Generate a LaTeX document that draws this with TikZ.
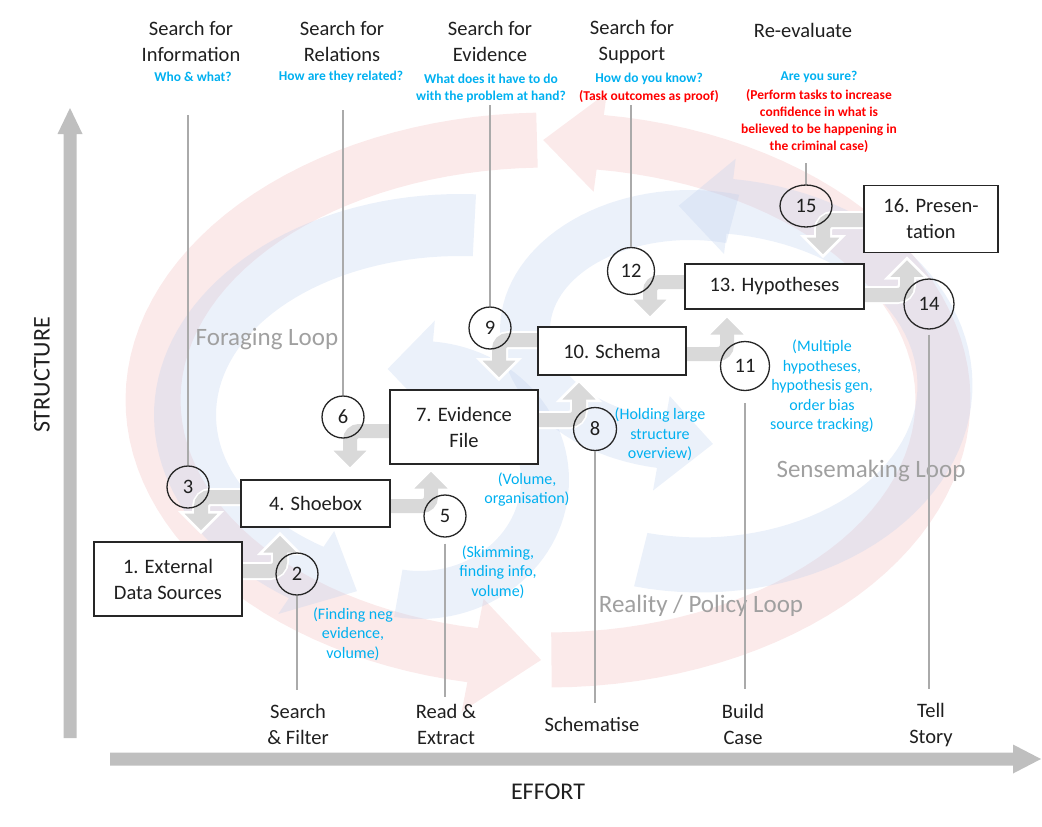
\documentclass[tikz,border=0pt]{standalone}
\usepackage{fontspec}
\setmainfont{Carlito}
\usetikzlibrary{shapes.geometric}
\pgfdeclarelayer{loops}
\pgfdeclarelayer{arrowsl}
\pgfsetlayers{loops,arrowsl,main}

\definecolor{askblue}{RGB}{0,176,240}
\definecolor{askred}{RGB}{255,0,0}
\definecolor{loopgray}{RGB}{160,160,160}
\definecolor{stemgray}{RGB}{170,170,170}
\definecolor{elbowgray}{RGB}{217,217,217}
\definecolor{axisgray}{RGB}{191,191,191}
\definecolor{boxline}{RGB}{38,38,38}
\definecolor{loopred}{RGB}{251,234,234}
\definecolor{loopblue}{RGB}{190,208,238}

% curved band with an arrow head: cx cy rx ry start end bandwidth headwidth tipangle
\newcommand\loopband[9]{%
  \fill plot[domain=#5:#6,samples=60,variable=\t]
      ({#1+(#3+#7/2)*cos(\t)},{#2-(#4+#7/2)*sin(\t)})
    -- ({#1+(#3+#8/2)*cos(#6)},{#2-(#4+#8/2)*sin(#6)})
    -- ({#1+#3*cos(#6+#9)},{#2-#4*sin(#6+#9)})
    -- ({#1+(#3-#8/2)*cos(#6)},{#2-(#4-#8/2)*sin(#6)})
    -- plot[domain=#6:#5,samples=60,variable=\t]
      ({#1+(#3-#7/2)*cos(\t)},{#2-(#4-#7/2)*sin(\t)})
    -- cycle;}

% grey bent step arrow: #1 start point, #2 tip coordinate, #3 = -1 (points up) or 1 (points down)
\newcommand\steparrow[3]{%
  \draw[white, line width=18pt, rounded corners=10pt] #1 -| ([yshift={#3*19pt}]#2);
  \filldraw[fill=elbowgray, draw=white, line width=2.5pt, line join=miter]
    (#2) -- ([xshift=-20pt, yshift={#3*20pt}]#2) -- ([xshift=20pt, yshift={#3*20pt}]#2) -- cycle;
  \draw[elbowgray, line width=14pt, rounded corners=9pt] #1 -| ([yshift={#3*17pt}]#2);}

\tikzset{
  box/.style={draw=boxline, line width=1.5pt, fill=white, inner sep=0pt,
    align=center, text=black!88, font=\fontsize{20.5}{26}\selectfont},
  num/.style={circle, draw=boxline, line width=1.3pt, inner sep=0pt,
    minimum size=42pt, text=black!88, font=\fontsize{20.5}{24}\selectfont},
  stem/.style={draw=stemgray, line width=1.2pt},
  head/.style={align=center, inner sep=0pt, text=black!88,
    font=\fontsize{20.5}{26}\selectfont},
  ask/.style={align=center, inner sep=0pt,
    font=\bfseries\fontsize{13.5}{17}\selectfont},
  note/.style={align=center, inner sep=0pt, text=askblue,
    font=\fontsize{16}{19.5}\selectfont},
  looplabel/.style={inner sep=0pt, text=loopgray, font=\fontsize{25}{30}\selectfont},
  axislabel/.style={inner sep=0pt, text=black!88, font=\fontsize{24}{28}\selectfont},
  axis/.style={fill=axisgray},
}

\begin{document}
\begin{tikzpicture}[x=1pt,y=-1pt]
\useasboundingbox (0,0) rectangle (1042,827);

% ---- axes
\coordinate (ybot) at (70,738);
\coordinate (ytop) at (70,108);
\coordinate (xl) at (110,759);
\coordinate (xr) at (1041,759);
\fill[axis] ([xshift=-6.5pt]ybot) -- ([xshift=-6.5pt,yshift=-26pt]ytop) -- ([xshift=-12.5pt,yshift=-26pt]ytop)
  -- (ytop) -- ([xshift=12.5pt,yshift=-26pt]ytop) -- ([xshift=6.5pt,yshift=-26pt]ytop) -- ([xshift=6.5pt]ybot) -- cycle;
\fill[axis] ([yshift=6.5pt]xl) -- ([xshift=-28pt,yshift=6.5pt]xr) -- ([xshift=-28pt,yshift=14.5pt]xr)
  -- (xr) -- ([xshift=-28pt,yshift=-14.5pt]xr) -- ([xshift=-28pt,yshift=-6.5pt]xr) -- ([yshift=-6.5pt]xl) -- cycle;
\node[axislabel, rotate=90] (structure) at (42,375) {STRUCTURE};
\node[axislabel] (effort) at (548,792) {EFFORT};

% ---- process boxes
\node[box, minimum width=148pt, minimum height=74pt] (b1) at (168,579) {1. External\\Data Sources};
\node[box, minimum width=149pt, minimum height=47pt] (b4) at (315.5,503.5) {4. Shoebox};
\node[box, minimum width=148pt, minimum height=74pt] (b7) at (464,427) {7. Evidence\\File};
\node[box, minimum width=148pt, minimum height=48pt] (b10) at (612,351) {10. Schema};
\node[box, minimum width=179pt, minimum height=45pt] (b13) at (774.5,286.5) {13. Hypotheses};
\node[box, minimum width=134pt, minimum height=67pt] (b16) at (931,219) {16. Presen-\\tation};

% ---- numbered steps
\node[num] (c2) at (297,574) {2};
\node[num] (c3) at (188,487) {3};
\node[num] (c5) at (445,516) {5};
\node[num] (c6) at (343,417) {6};
\node[num, minimum size=43pt] (c8) at (595,429) {8};
\node[num] (c9) at (490,328) {9};
\node[num, minimum size=49pt] (c11) at (745,366) {11};
\node[num, minimum size=47pt] (c12) at (631,271) {12};
\node[num, minimum size=50pt] (c14) at (929,304) {14};
\node[num, ellipse, minimum width=52pt, minimum height=42pt] (c15) at (806,206) {15};

% ---- background loops
\begin{pgfonlayer}{loops}
  \begin{scope}[fill=loopred]
    \loopband{548}{400}{395}{260}{91.6}{259}{55}{115}{10}
    \loopband{548}{400}{395}{260}{-89.5}{82.4}{55}{100}{8.3}
  \end{scope}
  \begin{scope}[fill=loopblue, fill opacity=0.3]
    \loopband{460}{415}{275}{190}{87}{236}{62}{100}{12}
    \loopband{420}{480}{125}{115}{-100}{85}{48}{90}{20}
    \loopband{690}{330}{165}{115}{75}{260}{50}{96}{18}
    \loopband{700}{385}{245}{180}{-104}{83}{55}{96}{12}
  \end{scope}
\end{pgfonlayer}

% ---- step arrows between the boxes
\coordinate (yA) at (0,571);  \coordinate (xA) at (280,0);
\coordinate (yB) at (0,497);  \coordinate (xB) at (201,0);
\coordinate (yC) at (0,506);  \coordinate (xC) at (431,0);
\coordinate (yD) at (0,431);  \coordinate (xD) at (350,0);
\coordinate (yE) at (0,420);  \coordinate (xE) at (579,0);
\coordinate (yF) at (0,340);  \coordinate (xF) at (499,0);
\coordinate (yG) at (0,354);  \coordinate (xG) at (727,0);
\coordinate (yH) at (0,282);  \coordinate (xH) at (650,0);
\coordinate (yI) at (0,295);  \coordinate (xI) at (907,0);
\coordinate (yJ) at (0,220);  \coordinate (xJ) at (823,0);
\coordinate (tA) at ([yshift=-6pt]b4.south -| xA);
\coordinate (tB) at ([yshift=9pt]b1.north -| xB);
\coordinate (tC) at ([yshift=-5pt]b7.south -| xC);
\coordinate (tD) at ([yshift=10pt]b4.north -| xD);
\coordinate (tE) at ([yshift=-5pt]b10.south -| xE);
\coordinate (tF) at ([yshift=10pt]b7.north -| xF);
\coordinate (tG) at ([yshift=-6pt]b13.south -| xG);
\coordinate (tH) at ([yshift=8pt]b10.north -| xH);
\coordinate (tI) at ([yshift=-5pt]b16.south -| xI);
\coordinate (tJ) at ([yshift=7pt]b13.north -| xJ);
\begin{pgfonlayer}{arrowsl}
  \steparrow{(b1.east |- yA)}{tA}{-1}
  \steparrow{(b4.west |- yB)}{tB}{1}
  \steparrow{(b4.east |- yC)}{tC}{-1}
  \steparrow{(b7.west |- yD)}{tD}{1}
  \steparrow{(b7.east |- yE)}{tE}{-1}
  \steparrow{(b10.west |- yF)}{tF}{1}
  \steparrow{(b10.east |- yG)}{tG}{-1}
  \steparrow{(b13.west |- yH)}{tH}{1}
  \steparrow{(b13.east |- yI)}{tI}{-1}
  \steparrow{(b16.west |- yJ)}{tJ}{1}
\end{pgfonlayer}

% ---- loop names
\node[looplabel] (forage) at (267,339) {Foraging Loop};
\node[looplabel] (sense) at (871,471) {Sensemaking Loop};
\node[looplabel] (reality) at (701,606) {Reality / Policy Loop};

% ---- questions along the top
\node[head] (q3) at (191,41) {Search for\\Information};
\node[head] (q6) at (342,41) {Search for\\Relations};
\node[head] (q9) at (490,41) {Search for\\Evidence};
\node[head] (q12) at (632,42) {Search for\\Support};
\node[head] (q15) at (803,30) {Re-evaluate};
\node[ask, text=askblue] (a3) at (193,77) {Who \& what?};
\node[ask, text=askblue] (a6) at (341,77) {How are they related?};
\node[ask, text=askblue] (a9) at (491,88) {What does it have to do\\with the problem at hand?};
\node[ask, text=askblue] (a12) at (649,79) {How do you know?};
\node[ask, text=askred] (a12r) at (649,97) {(Task outcomes as proof)};
\node[ask, text=askblue] (a15) at (819,77) {Are you sure?};
\node[ask, text=askred] (a15r) at (819,121) {(Perform tasks to increase\\confidence in what is\\believed to be happening in\\the criminal case)};

% ---- activities along the bottom
\node[head] (d2) at (298,724) {Search\\\& Filter};
\node[head] (d5) at (446,724) {Read \&\\Extract};
\node[head] (d8) at (592,724) {Schematise};
\node[head] (d11) at (743,724) {Build\\Case};
\node[head] (d14) at (931,725) {Tell\\Story};

% ---- side notes
\node[note] (n2) at (353,634) {(Finding neg\\evidence,\\volume)};
\node[note] (n5) at (498,572) {(Skimming,\\finding info,\\volume)};
\node[note] (n7) at (527,489.5) {(Volume,\\organisation)};
\node[note] (n8) at (660,434.5) {(Holding large\\structure\\overview)};
\node[note] (n11) at (822,386.5) {(Multiple\\hypotheses,\\hypothesis gen,\\order bias\\source tracking)};

% ---- stems from the questions and activities to the steps
\coordinate (s3) at (188,115);
\coordinate (s6) at (343,110);
\coordinate (s9) at (490,105);
\coordinate (s12) at (631,105);
\coordinate (s15) at (806,163);
\coordinate (s2) at (297,690);
\coordinate (s5) at (445,697);
\coordinate (s8) at (595,703);
\coordinate (s11) at (745,689);
\coordinate (s14) at (929,689);
\draw[stem] (s3) -- (c3);
\draw[stem] (s6) -- (c6);
\draw[stem] (s9) -- (c9);
\draw[stem] (s12) -- (c12);
\draw[stem] (s15) -- (c15);
\draw[stem] (c2) -- (s2);
\draw[stem, shorten <=6pt] (c5) -- (s5);
\draw[stem] (c8) -- (s8);
\draw[stem, shorten <=12pt] (c11) -- (s11);
\draw[stem, shorten <=5pt] (c14) -- (s14);
\end{tikzpicture}
\end{document}
